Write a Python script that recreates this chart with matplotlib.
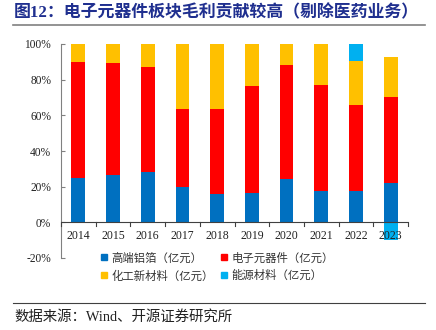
import matplotlib
matplotlib.use("Agg")
import matplotlib.pyplot as plt
import numpy as np
from matplotlib.lines import Line2D
from matplotlib.ticker import FuncFormatter

years = ["2014", "2015", "2016", "2017", "2018", "2019", "2020", "2021", "2022", "2023"]
aluminum_foil = [25.0, 26.5, 28.0, 19.8, 15.7, 16.6, 24.1, 17.6, 17.4, 22.0]
electronic_parts = [64.9, 62.7, 59.3, 43.9, 47.7, 59.7, 64.3, 59.6, 48.6, 48.3]
chemical_materials = [10.1, 10.8, 12.7, 36.3, 36.6, 23.7, 11.6, 22.8, 24.6, 22.2]
energy_materials = [0.0, 0.0, 0.0, 0.0, 0.0, 0.0, 0.0, 0.0, 9.4, -10.0]

series_names = ["高端铝箔（亿元）", "电子元器件（亿元）", "化工新材料（亿元）", "能源材料（亿元）"]
colors = ["#0070C0", "#FF0000", "#FFC000", "#00B0F0"]
yticks = [-20, 0, 20, 40, 60, 80, 100]

cjk = ["Noto Sans CJK SC", "DejaVu Sans"]
serif = ["Liberation Serif", "Noto Sans CJK SC"]

fig = plt.figure(figsize=(4.36, 3.30), dpi=100)
ax = fig.add_axes([61 / 436, 1 - 258 / 330, 347 / 436, 214 / 330])

x = np.arange(len(years))
w = 0.4
data = [aluminum_foil, electronic_parts, chemical_materials, energy_materials]
pos_base = np.zeros(len(years))
neg_base = np.zeros(len(years))
for vals, c in zip(data, colors):
    v = np.array(vals)
    bottoms = np.where(v >= 0, pos_base, neg_base)
    ax.bar(x, v, w, bottom=bottoms, color=c, edgecolor="none", zorder=2)
    pos_base = pos_base + np.where(v >= 0, v, 0)
    neg_base = neg_base + np.where(v < 0, v, 0)

ax.set_xlim(-0.5, len(years) - 0.5)
ax.set_ylim(-20, 100)

for s in ["top", "right", "bottom"]:
    ax.spines[s].set_visible(False)
ax.spines["left"].set_color("#808080")
ax.spines["left"].set_linewidth(0.8)
ax.axhline(0, color="#404040", lw=0.8, zorder=3)

ax.set_yticks(yticks)
ax.yaxis.set_major_formatter(FuncFormatter(lambda v, p: f"{int(v)}%"))
ax.tick_params(axis="y", direction="in", length=3, color="#808080", pad=7,
               labelsize=8.3, labelcolor="#222222")
for lab in ax.get_yticklabels():
    lab.set_fontfamily(serif)

ax.set_xticks([])
# category boundary tick marks on the zero line
for b in np.arange(-0.5, len(years), 1.0):
    ax.plot([b, b], [0, -1.8], color="#404040", lw=0.8, zorder=3, clip_on=False)
for xi, lab in zip(x, years):
    ax.text(xi, -4.5, lab, ha="center", va="top", fontsize=8.5,
            family=serif, color="#222222", zorder=4)

handles = [Line2D([], [], marker="s", linestyle="none", markersize=4,
                  markerfacecolor=c, markeredgecolor=c) for c in colors]
order = [0, 2, 1, 3]
leg = fig.legend([handles[i] for i in order], [series_names[i] for i in order],
                 ncol=2, loc="upper left",
                 bbox_to_anchor=(90 / 436, 1 - 242 / 330), frameon=False,
                 prop={"family": cjk, "size": 8.2}, handlelength=0.6,
                 handletextpad=0.35, columnspacing=0.6, labelspacing=0.58)
for t in leg.get_texts():
    t.set_color("#333333")

fig.text(14 / 436, 1 - 13 / 330, "图12：电子元器件板块毛利贡献较高（剔除医药业务）",
         ha="left", va="center", fontsize=12.2, fontweight="bold",
         family=serif, color="#1F2F8F")
fig.add_artist(Line2D([13 / 436, 425 / 436], [1 - 25 / 330, 1 - 25 / 330],
                      color="#808080", lw=1.2))
fig.add_artist(Line2D([13 / 436, 425 / 436], [1 - 302.5 / 330, 1 - 302.5 / 330],
                      color="#404040", lw=0.8))
fig.text(14 / 436, 1 - 317 / 330, "数据来源：Wind、开源证券研究所",
         ha="left", va="center", fontsize=10.4, family=serif, color="#222222")

fig.savefig("out.png", dpi=100)
